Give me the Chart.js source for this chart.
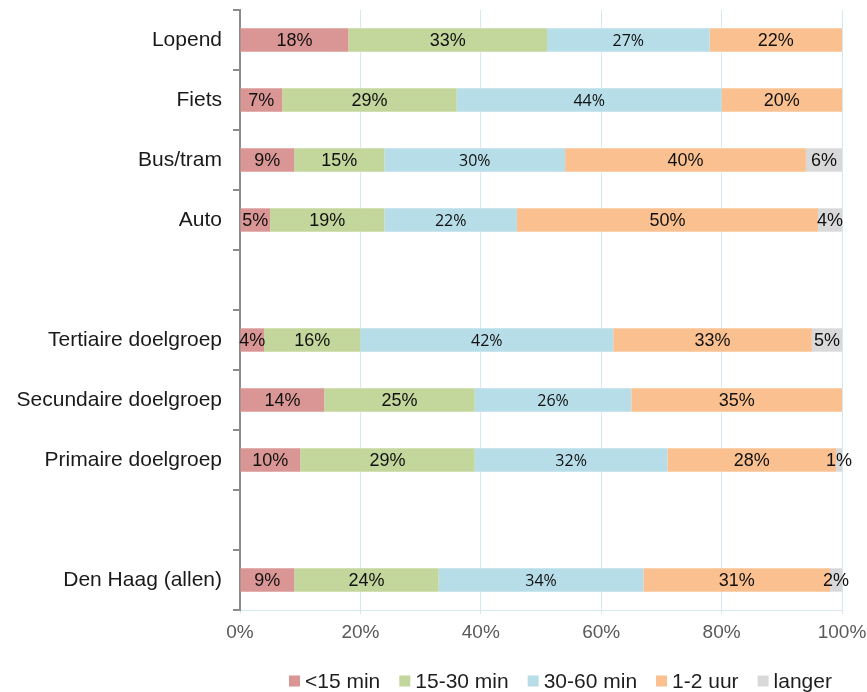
<!DOCTYPE html>
<html>
<head>
<meta charset="utf-8">
<script src="https://cdn.jsdelivr.net/npm/chart.js@4/dist/chart.umd.min.js"></script>
<style>
  html, body { margin: 0; padding: 0; background: #ffffff; }
  #wrap { width: 867px; height: 692px; position: relative; }
</style>
</head>
<body>
<div id="wrap"><canvas id="c" width="867" height="692"></canvas></div>
<script>
const categories = ['Lopend', 'Fiets', 'Bus/tram', 'Auto', '', 'Tertiaire doelgroep', 'Secundaire doelgroep', 'Primaire doelgroep', '', 'Den Haag (allen)'];
const seriesNames = ['<15 min', '15-30 min', '30-60 min', '1-2 uur', 'langer'];
const lt15min   = [18,  7,  9,  5, null,  4, 14, 10, null,  9];
const min15to30 = [33, 29, 15, 19, null, 16, 25, 29, null, 24];
const min30to60 = [27, 44, 30, 22, null, 42, 26, 32, null, 34];
const uur1to2   = [22, 20, 40, 50, null, 33, 35, 28, null, 31];
const langer    = [ 0,  0,  6,  4, null,  5,  0,  1, null,  2];
const xTickValues = [0, 20, 40, 60, 80, 100];

const colors = ['#d99694', '#c3d69b', '#b7dee8', '#fac090', '#d9d9d9'];
const seriesData = [lt15min, min15to30, min30to60, uur1to2, langer];
const labelFonts = [
  '18px "Liberation Sans", Arial, sans-serif',
  '18px "Liberation Sans", Arial, sans-serif',
  '16px "Open Sans", "Noto Sans", sans-serif',
  '18px "Liberation Sans", Arial, sans-serif',
  '18px "Liberation Sans", Arial, sans-serif'
];

const barLabels = {
  id: 'barLabels',
  afterDatasetsDraw(chart) {
    const ctx = chart.ctx;
    ctx.save();
    ctx.textAlign = 'center';
    ctx.textBaseline = 'middle';
    ctx.fillStyle = '#111111';
    chart.data.datasets.forEach((ds, di) => {
      const meta = chart.getDatasetMeta(di);
      ctx.font = labelFonts[di];
      meta.data.forEach((el, i) => {
        const v = ds.data[i];
        if (v === null || v === undefined || v <= 0) return;
        const p = el.getProps(['x', 'y', 'base'], true);
        ctx.fillText(v + '%', (p.x + p.base) / 2, p.y + 1);
      });
    });
    ctx.restore();
  }
};

const customLegend = {
  id: 'customLegend',
  afterDraw(chart) {
    const ctx = chart.ctx;
    ctx.save();
    ctx.font = '21px "Liberation Sans", Arial, sans-serif';
    ctx.textBaseline = 'middle';
    const y = 681;
    let x = 289;
    const box = 11;
    chart.data.datasets.forEach((ds, di) => {
      ctx.fillStyle = ds.backgroundColor;
      ctx.fillRect(x, y - box / 2, box, box);
      x += box + 5;
      ctx.fillStyle = '#1e1e1e';
      ctx.textAlign = 'left';
      ctx.fillText(ds.label, x, y + 1);
      x += ctx.measureText(ds.label).width + 19;
    });
    ctx.restore();
  }
};

new Chart(document.getElementById('c'), {
  type: 'bar',
  data: {
    labels: categories,
    datasets: seriesNames.map((name, i) => ({
      label: name,
      data: seriesData[i],
      backgroundColor: colors[i],
      borderWidth: 0,
      barPercentage: 0.39,
      categoryPercentage: 1.0
    }))
  },
  options: {
    indexAxis: 'y',
    responsive: false,
    animation: false,
    layout: { padding: { left: 0, right: 25, top: 10, bottom: 0 } },
    plugins: {
      legend: { display: false },
      tooltip: { enabled: false }
    },
    scales: {
      x: {
        stacked: true,
        min: 0,
        max: 100,
        afterFit(scale) { scale.height = 82; scale.paddingLeft = 0; scale.paddingRight = 0; },
        afterBuildTicks(scale) { scale.ticks = xTickValues.map(v => ({ value: v })); },
        grid: { color: '#d6e9f1', lineWidth: 1, tickLength: 4, drawTicks: true },
        border: { color: '#d6e9f1', width: 1 },
        ticks: {
          color: '#595959',
          font: { family: '"Liberation Sans", Arial, sans-serif', size: 19 },
          padding: 7,
          callback: v => v + '%'
        }
      },
      y: {
        stacked: true,
        offset: true,
        afterFit(scale) { scale.width = 240; scale.paddingTop = 0; scale.paddingBottom = 0; },
        grid: { offset: true, drawOnChartArea: false, color: '#8c8c8c', lineWidth: 2, tickLength: 7 },
        border: { color: '#8c8c8c', width: 2 },
        ticks: {
          color: '#1a1a1a',
          font: { family: '"Liberation Sans", Arial, sans-serif', size: 21 },
          padding: 11,
          autoSkip: false
        }
      }
    }
  },
  plugins: [barLabels, customLegend]
});
</script>
</body>
</html>
